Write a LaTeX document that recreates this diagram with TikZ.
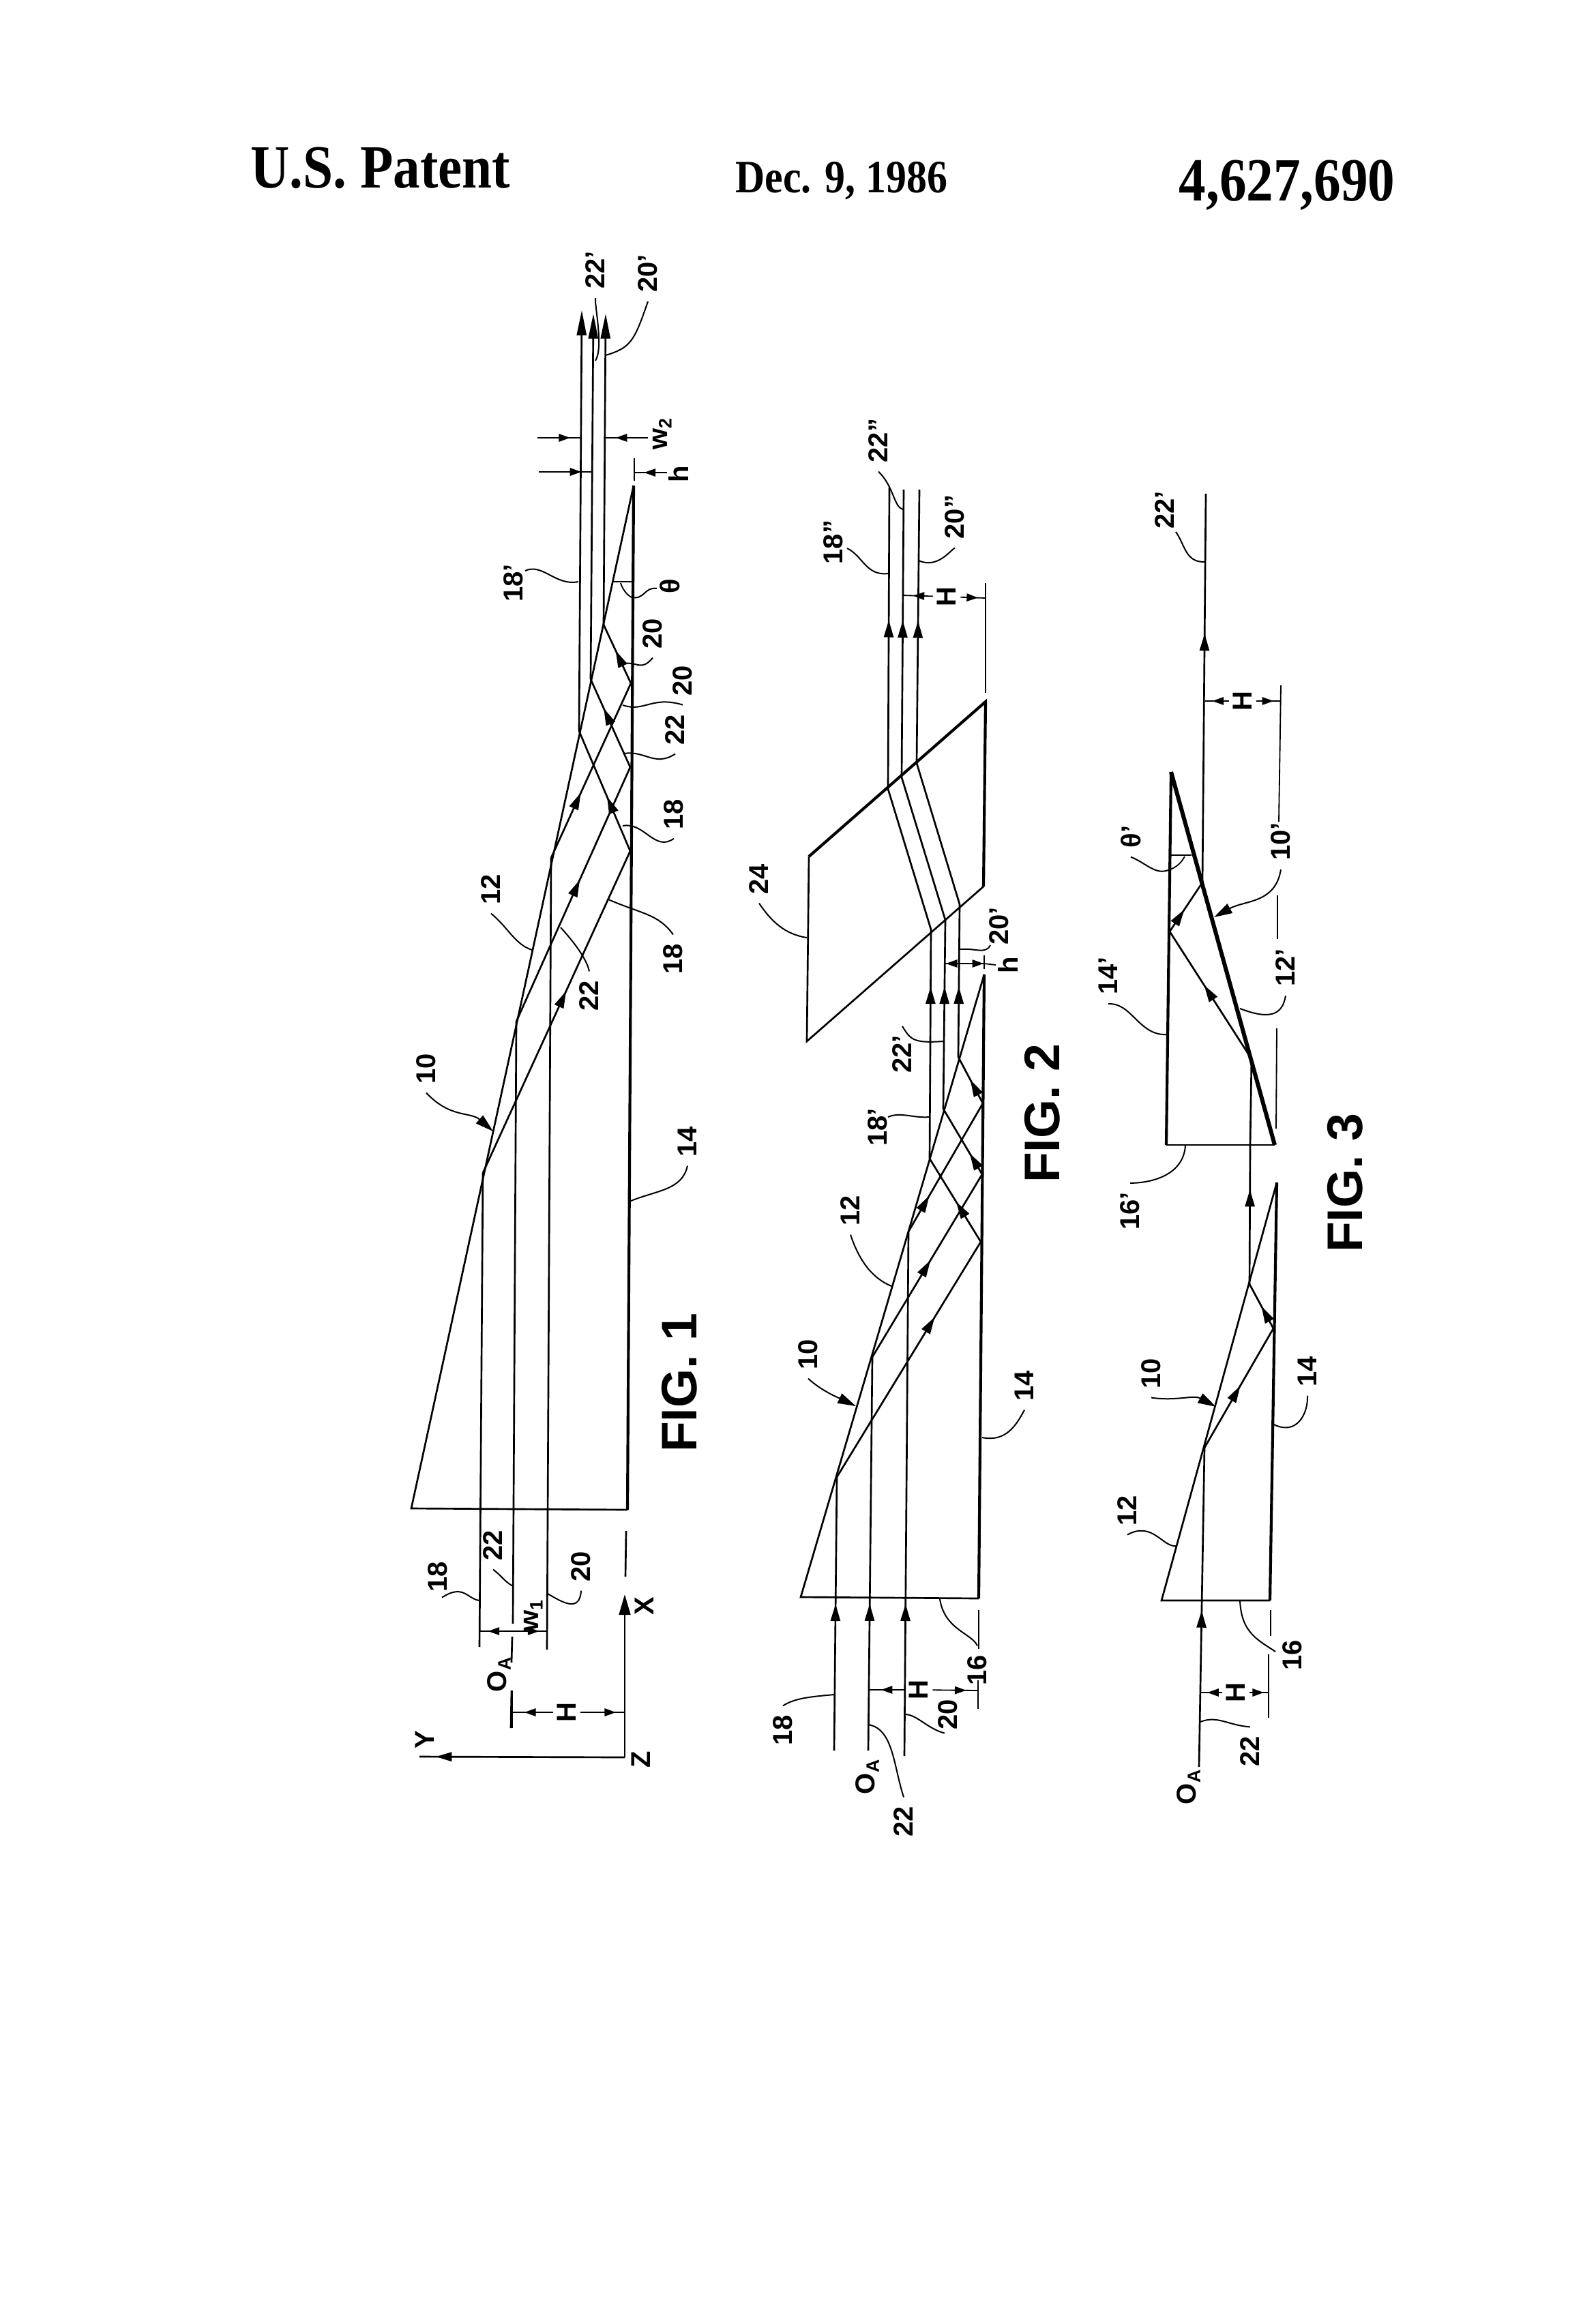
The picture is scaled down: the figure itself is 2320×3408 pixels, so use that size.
\documentclass[tikz,border=0pt]{standalone}
\usepackage{fontspec}
\setmainfont{Liberation Sans}
\newfontfamily\headfont[FakeStretch=0.88]{Liberation Serif}
\usetikzlibrary{arrows.meta,decorations.markings}
\tikzset{
  ray/.style={line width=0.8pt},
  edge/.style={line width=0.8pt},
  thickedge/.style={line width=1.25pt},
  heavyedge/.style={line width=1.8pt},
  leader/.style={line width=0.6pt},
  dimline/.style={line width=0.55pt},
  rayhead/.style={postaction={decorate,decoration={markings,mark=at position #1 with {\arrow{Triangle[length=7.5pt,width=4.2pt]}}}}},
  dimhead/.style={postaction={decorate,decoration={markings,mark=at position #1 with {\arrow{Triangle[length=5pt,width=3.4pt]}}}}},
  endhead/.style={-{Triangle[length=11pt,width=4.2pt]}},
  bighead/.style={-{Triangle[length=8pt,width=4.6pt]}},
  lab/.style={rotate=90,inner sep=0pt,outer sep=4pt,font=\bfseries\fontsize{12}{12}\selectfont},
  figlab/.style={rotate=90,inner sep=0pt,font=\bfseries\fontsize{22}{22}\selectfont},
  headlab/.style={anchor=base,inner sep=0pt}
}
\begin{document}
\begin{tikzpicture}[x=0.3pt,y=0.3pt,yscale=-1]
\useasboundingbox (0,0) rectangle (2320,3408);

% Text Node
\node (patentlab) [headlab,font=\fontsize{27}{27}\selectfont\headfont\bfseries] at (558,275) {U.S. Patent};
\node (datelab) [headlab,font=\fontsize{20.4}{21}\selectfont\headfont\bfseries] at (1234,282) {Dec. 9, 1986};
\node (numberlab) [headlab,font=\fontsize{27}{27}\selectfont\headfont\bfseries] at (1887,295) {4,627,690};

%%% FIG 1
%Shape: Wedge
\coordinate (fa) at (603,2212);
\coordinate (fb) at (920,2214);
\coordinate (fc) at (929,712);
\draw [edge] (fc) -- (fa) -- (fb);
\draw [thickedge] (fb) -- (fc);
% hit points
\coordinate (fin18) at (708,1720);
\coordinate (fin22) at (757,1498);
\coordinate (fin20) at (808,1258);
\coordinate (fbo18) at (924,1248);
\coordinate (fbo22) at (924,1125);
\coordinate (fbo20) at (925,1002);
\coordinate (fout18) at (849,1072);
\coordinate (fout22) at (866,996);
\coordinate (fout20) at (885,916);
%Straight Lines
\draw [ray] (703,2415) -- (fin18);
\draw [ray] (752,2381) -- (fin22);
\draw [ray] (751,2400) -- (750,2438);
\draw [ray] (750,2479) -- (749,2534);
\draw [ray] (802,2419) -- (fin20);
\draw [ray,rayhead=0.565] (fin18) -- (fbo18);
\draw [ray,rayhead=0.557] (fin22) -- (fbo22);
\draw [ray,rayhead=0.373] (fin20) -- (fbo20);
\draw [ray,rayhead=0.453] (fbo18) -- (fout18);
\draw [ray,rayhead=0.67] (fbo22) -- (fout22);
\draw [ray,rayhead=0.56] (fbo20) -- (fout20);
\draw [ray,endhead] (fout18) -- (853,455);
\draw [ray,endhead] (fout22) -- (870,460);
\draw [ray,endhead] (fout20) -- (888,460);
% Axes
\coordinate (forigin) at (916,2577);
\draw [ray,-{Triangle[length=9pt,width=5pt]}] (forigin) -- (916,2338);
\draw [ray,postaction={decorate,decoration={markings,mark=at position 0.92 with {\arrow{Triangle[length=7pt,width=4pt]}}}}] (forigin) -- (615,2576);
\draw [ray] (918,2245) -- (917,2312);
% Dimensions
\node (flabh) [lab,outer sep=2pt] at (831,2511) {H};
\draw [dimline] (751,2479) -- (751,2534);
\draw [dimline,dimhead=0.7] (flabh) -- (751,2511);
\draw [dimline,dimhead=0.8] (flabh) -- (forigin |- flabh);
\coordinate (fwmid) at (753,2392);
\draw [dimline,dimhead=0.75] (fwmid) -- (703,2392);
\draw [dimline,dimhead=0.75] (fwmid) -- (803,2392);
\draw [dimline,dimhead=0.75] (788,642) -- (852,642);
\draw [dimline,dimhead=0.75] (950,642) -- (887,642);
\draw [dimline,dimhead=0.8] (790,692) -- (868,692);
\draw [dimline] (930,672) -- (930,705);
\node (flabhsmall) [lab] at (995,695) {h};
\draw [dimline,dimhead=0.7] (978,693) -- (930,693);
% Angle
\draw [dimline] (898,853) -- (927,853);
\draw [dimline] (910,855) .. controls (913,865) and (920,873) .. (926,876);

% Text Node
\node (flab18) [lab] at (642,2312) {18};
\node (flab22) [lab] at (723,2266) {22};
\node (flab20) [lab] at (852,2297) {20};
\node (flabw) [lab] at (782,2369) {w\textsubscript{1}};
\node (flabq) [lab] at (732,2455) {O\textsubscript{A}};
\node (flabx) [lab] at (945,2355) {X};
\node (flaby) [lab] at (623,2551) {Y};
\node (flabz) [lab] at (940,2580) {Z};
\node (flabfig) [figlab] at (996,2028) {FIG. 1};
\node (flab14) [lab] at (1008,1674) {14};
\node (flab10) [lab] at (625,1567) {10};
\node (flab12) [lab] at (720,1304) {12};
\node (flab22b) [lab] at (864,1460) {22};
\node (flab18b) [lab] at (987,1406) {18};
\node (flab18c) [lab] at (988,1194) {18};
\node (flab22c) [lab] at (990,1070) {22};
\node (flab20b) [lab] at (1001,998) {20};
\node (flab20c) [lab] at (957,929) {20};
\node (flabth) [lab] at (982,860) {θ};
\node (flab18p) [lab] at (753,855) {18'};
\node (flabw2) [lab] at (971,636) {w\textsubscript{2}};
\node (flab22p) [lab] at (873,396) {22'};
\node (flab20p) [lab] at (950,401) {20'};
% Leaders
\draw [leader] (flab18.west) ++(6,-5) .. controls (680,2322) and (685,2345) .. (703,2347);
\draw [leader] (flab22.west) .. controls (735,2310) and (742,2322) .. (753,2326);
\draw [leader] (flab20.west) .. controls (850,2365) and (825,2350) .. (803,2337);
\draw [leader] (flab14.west) .. controls (1000,1745) and (965,1745) .. (925,1761);
\draw [leader,bighead] (flab10.west) .. controls (660,1640) and (690,1630) .. (723,1659);
\draw [leader] (flab12.west) .. controls (745,1360) and (755,1385) .. (780,1393);
\draw [leader] (flab22b.east) .. controls (860,1405) and (840,1380) .. (822,1360);
\draw [leader] (flab18b.east) .. controls (965,1340) and (940,1340) .. (892,1319);
\draw [leader] (flab18c.west) .. controls (960,1250) and (945,1205) .. (913,1211);
\draw [leader] (flab22c.west) .. controls (960,1125) and (945,1100) .. (915,1105);
\draw [leader] (flab20b.west) .. controls (955,1020) and (945,1045) .. (913,1034);
\draw [leader] (flab20c.west) .. controls (940,985) and (935,970) .. (915,973);
\draw [leader] (963,863) .. controls (945,860) and (945,880) .. (926,876);
\draw [leader] (770,837) .. controls (795,825) and (815,860) .. (848,853);
\draw [leader] (flab22p.west) .. controls (872,450) and (885,510) .. (873,529);
\draw [leader] (flab20p.west) .. controls (930,500) and (925,510) .. (888,521);

%%% FIG 2
%Shape: Wedge
\coordinate (ga) at (1174,2342);
\coordinate (gb) at (1435,2344);
\coordinate (gc) at (1443,1429);
\draw [edge] (gc) -- (ga) -- (gb);
\draw [thickedge] (gb) -- (gc);
%Shape: Prism
\coordinate (gp1) at (1186,1256);
\coordinate (gp2) at (1445,1029);
\coordinate (gp3) at (1442,1300);
\coordinate (gp4) at (1183,1527);
\draw [edge] (gp3) -- (gp4) -- (gp1);
\draw [thickedge] (gp1) -- (gp2) -- (gp3);
% hit points
\coordinate (gin18) at (1227,2166);
\coordinate (gin22) at (1279,1990);
\coordinate (gin20) at (1332,1806);
\coordinate (gbo18) at (1438,1821);
\coordinate (gbo22) at (1440,1722);
\coordinate (gbo20) at (1441,1618);
\coordinate (gout18) at (1363,1699);
\coordinate (gout22) at (1383,1626);
\coordinate (gout20) at (1405,1550);
\coordinate (gpi18) at (1365,1363);
\coordinate (gpi22) at (1386,1349);
\coordinate (gpi20) at (1407,1326);
\coordinate (gpo18) at (1302,1157);
\coordinate (gpo22) at (1322,1140);
\coordinate (gpo20) at (1344,1119);
%Straight Lines
\draw [ray,rayhead=0.536] (1223,2567) -- (gin18);
\draw [ray,rayhead=0.373] (1273,2567) -- (gin22);
\draw [ray,rayhead=0.29] (1326,2575) -- (gin20);
\draw [ray,rayhead=0.68] (gin18) -- (gbo18);
\draw [ray,rayhead=0.53] (gin22) -- (gbo22);
\draw [ray,rayhead=0.28] (gin20) -- (gbo20);
\draw [ray,rayhead=0.48] (gbo18) -- (gout18);
\draw [ray,rayhead=0.32] (gbo22) -- (gout22);
\draw [ray,rayhead=0.51] (gbo20) -- (gout20);
\draw [ray,rayhead=0.75] (gout18) -- (gpi18);
\draw [ray,rayhead=0.646] (gout22) -- (gpi22);
\draw [ray,rayhead=0.46] (gout20) -- (gpi20);
\draw [ray] (gpi18) -- (gpo18);
\draw [ray] (gpi22) -- (gpo22);
\draw [ray] (gpi20) -- (gpo20);
\draw [ray,rayhead=0.56] (gpo18) -- (1304,715);
\draw [ray,rayhead=0.545] (gpo22) -- (1325,718);
\draw [ray,rayhead=0.52] (gpo20) -- (1348,718);
% Dimensions
\node (glabh) [lab,outer sep=2pt] at (1388,875) {H};
\draw [dimline] (1445,855) -- (1445,1016);
\draw [dimline,dimhead=0.65] (glabh) -- (1323,873);
\draw [dimline,dimhead=0.7] (glabh) -- (1445,877);
\coordinate (gsmid) at (1415,1413);
\draw [dimline,dimhead=0.97] (gsmid) -- (1386,1413);
\draw [dimline,dimhead=0.97] (gsmid) -- (1443,1413);
\draw [dimline] (1443,1401) -- (1443,1421);
\draw [dimline] (1443,1413) -- (1460,1415);
\node (glabhlow) [lab,outer sep=2pt] at (1347,2478) {H};
\draw [dimline] (1435,2361) -- (1435,2418);
\draw [dimline] (1434,2464) -- (1434,2506);
\draw [dimline,dimhead=0.65] (glabhlow) -- (1273,2478);
\draw [dimline,dimhead=0.75] (glabhlow) -- (1433,2479);

% Text Node
\node (glabfig) [figlab] at (1528,1633) {FIG. 2};
\node (glab22pp) [lab] at (1288,646) {22''};
\node (glab18pp) [lab] at (1222,795) {18''};
\node (glab20pp) [lab] at (1400,758) {20''};
\node (glab24) [lab] at (1113,1289) {24};
\node (glab20p) [lab] at (1465,1358) {20'};
\node (glabh2) [lab] at (1478,1415) {h};
\node (glab22p) [lab] at (1323,1546) {22'};
\node (glab18p) [lab] at (1287,1653) {18'};
\node (glab12) [lab] at (1247,1775) {12};
\node (glab10) [lab] at (1185,1986) {10};
\node (glab14) [lab] at (1502,2032) {14};
\node (glab16) [lab] at (1433,2449) {16};
\node (glab18) [lab] at (1148,2537) {18};
\node (glab20) [lab] at (1390,2514) {20};
\node (glabq) [lab] at (1272,2605) {O\textsubscript{A}};
\node (glab22) [lab] at (1325,2671) {22};
% Leaders
\draw [leader] (glab22pp.west) .. controls (1312,715) and (1310,745) .. (1325,747);
\draw [leader] (1242,804) .. controls (1265,815) and (1270,845) .. (1302,841);
\draw [leader] (glab20pp.west) .. controls (1395,805) and (1375,835) .. (1347,822);
\draw [leader] (glab24.west) .. controls (1130,1350) and (1150,1370) .. (1183,1375);
\draw [leader] (1452,1386) .. controls (1445,1400) and (1430,1390) .. (1408,1392);
\draw [leader] (glab22p.east) .. controls (1335,1525) and (1340,1530) .. (1383,1527);
\draw [leader] (1302,1638) .. controls (1320,1630) and (1340,1640) .. (1362,1638);
\draw [leader] (glab12.west) .. controls (1260,1850) and (1280,1875) .. (1307,1886);
\draw [leader,bighead] (glab10.west) .. controls (1205,2040) and (1230,2050) .. (1255,2062);
\draw [leader] (glab14.west) .. controls (1490,2090) and (1475,2115) .. (1440,2108);
\draw [leader] (glab16.east) .. controls (1425,2395) and (1385,2390) .. (1378,2345);
\draw [leader] (glab18.east) .. controls (1165,2490) and (1190,2488) .. (1223,2485);
\draw [leader] (glab20.west) ++(-5,-8) .. controls (1360,2535) and (1345,2515) .. (1328,2514);
\draw [leader] (glab22.east) .. controls (1310,2590) and (1310,2535) .. (1273,2529);

%%% FIG 3
%Shape: Lower wedge
\coordinate (ha) at (1703,2347);
\coordinate (hb) at (1862,2347);
\coordinate (hc) at (1872,1734);
\draw [edge] (hc) -- (ha) -- (hb);
\draw [thickedge] (hb) -- (hc);
%Shape: Upper wedge
\coordinate (ka) at (1710,1679);
\coordinate (kb) at (1869,1679);
\coordinate (kc) at (1717,1132);
\draw [edge] (ka) -- (kb);
\draw [thickedge] (kc) -- (ka);
\draw [heavyedge] (kb) -- (kc);
% hit points
\coordinate (hin) at (1766,2123);
\coordinate (hbo) at (1867,1948);
\coordinate (hout) at (1832,1883);
\coordinate (kin) at (1833,1679);
\coordinate (khit) at (1835,1553);
\coordinate (kbo) at (1715,1366);
\coordinate (kout) at (1763,1294);
%Straight Lines
\draw [ray,rayhead=0.49] (1758,2591) -- (hin);
\draw [ray,rayhead=0.52] (hin) -- (hbo);
\draw [ray,rayhead=0.5] (hbo) -- (hout);
\draw [ray,rayhead=0.68] (hout) -- (kin);
\draw [ray] (kin) -- (khit);
\draw [ray,rayhead=0.58] (khit) -- (kbo);
\draw [ray,rayhead=0.45] (kbo) -- (kout);
\draw [ray,rayhead=0.64] (kout) -- (1768,724);
% Dimensions
\node (hlabh) [lab,outer sep=2pt] at (1812,2482) {H};
\draw [dimline] (1860,2426) -- (1860,2519);
\draw [dimline] (1863,2361) -- (1863,2399);
\draw [dimline,dimhead=0.7] (hlabh) -- (1761,2482);
\draw [dimline,dimhead=0.75] (hlabh) -- (1860,2482);
\node (klabh) [lab,outer sep=2pt] at (1822,1028) {H};
\draw [dimline] (1878,1005) -- (1875,1205);
\draw [dimline] (1873,1313) -- (1873,1377);
\draw [dimline] (1872,1508) -- (1871,1655);
\draw [dimline,dimhead=0.7] (klabh) -- (1767,1028);
\draw [dimline,dimhead=0.7] (klabh) -- (1878,1028);
% Angle
\draw [dimline] (1715,1254) -- (1747,1254);
\draw [dimline] (1715,1275) .. controls (1725,1272) and (1732,1265) .. (1737,1256);

% Text Node
\node (hlabfig) [figlab] at (1972,1735) {FIG. 3};
\node (klab22p) [lab] at (1708,748) {22'};
\node (klabth) [lab] at (1658,1227) {θ'};
\node (klab10p) [lab] at (1878,1234) {10'};
\node (klab12p) [lab] at (1885,1419) {12'};
\node (klab14p) [lab] at (1625,1431) {14'};
\node (klab16p) [lab] at (1657,1776) {16'};
\node (hlab10) [lab] at (1688,2014) {10};
\node (hlab12) [lab] at (1653,2215) {12};
\node (hlab14) [lab] at (1917,2011) {14};
\node (hlab16) [lab] at (1895,2427) {16};
\node (hlab22) [lab] at (1833,2568) {22};
\node (hlabq) [lab] at (1743,2620) {O\textsubscript{A}};
% Leaders
\draw [leader] (1724,780) .. controls (1738,800) and (1738,825) .. (1767,824);
\draw [leader] (klabth.west) .. controls (1680,1265) and (1695,1285) .. (1715,1275);
\draw [leader,bighead] (klab10p.west) .. controls (1870,1325) and (1825,1320) .. (1780,1345);
\draw [leader] (klab12p.west) .. controls (1880,1490) and (1860,1495) .. (1818,1479);
\draw [leader] (klab14p.west) .. controls (1660,1470) and (1670,1520) .. (1712,1517);
\draw [leader] (klab16p.east) .. controls (1685,1735) and (1735,1725) .. (1738,1680);
\draw [leader,bighead] (hlab10.west) .. controls (1725,2055) and (1750,2045) .. (1783,2063);
\draw [leader] (hlab12.west) .. controls (1690,2230) and (1705,2270) .. (1725,2267);
\draw [leader] (hlab14.west) .. controls (1918,2075) and (1900,2105) .. (1868,2089);
\draw [leader] (1870,2422) .. controls (1845,2405) and (1820,2395) .. (1818,2347);
\draw [leader] (hlab22.east) .. controls (1800,2530) and (1785,2515) .. (1760,2525);
\end{tikzpicture}
\end{document}
